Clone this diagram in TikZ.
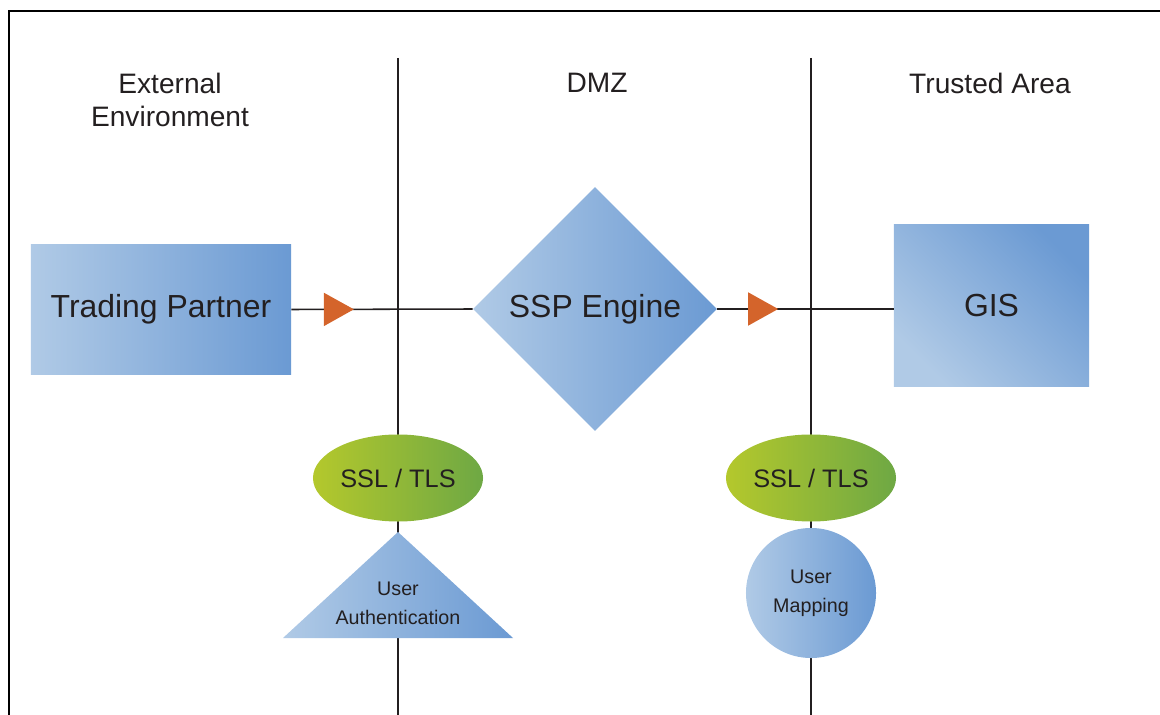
\documentclass[tikz,border=0pt]{standalone}
\usepackage{fontspec}
\setmainfont{Liberation Sans}
\usetikzlibrary{shapes.geometric,arrows.meta,decorations.markings}

\definecolor{inkgray}{HTML}{231F20}
\definecolor{bluelight}{HTML}{B0CAE6}
\definecolor{bluedark}{HTML}{6B9AD3}
\definecolor{greenlight}{HTML}{B4C82C}
\definecolor{greendark}{HTML}{6EA844}
\definecolor{flowarrow}{HTML}{D4642B}

\begin{document}
\begin{tikzpicture}[x=0.025cm, y=-0.025cm,
    every node/.style={text=inkgray},
    zonelabel/.style={font=\fontsize{20}{23.5}\selectfont, align=center},
    bigtext/.style={font=\fontsize{22.7}{27}\selectfont, inner sep=0pt},
    smalltext/.style={font=\fontsize{14}{20.5}\selectfont, align=center},
    hgrad/.style={left color=bluelight, right color=bluedark},
    dgrad/.style={bottom color=bluelight, top color=bluedark, shading angle=-45},
    seclayer/.style={ellipse, left color=greenlight, right color=greendark,
        minimum width=4.25cm, minimum height=2.175cm, inner sep=0pt,
        font=\fontsize{18}{21}\selectfont},
    zoneline/.style={inkgray, line width=1.1pt},
    flowline/.style={inkgray, line width=1.1pt, postaction={decorate},
        decoration={markings, mark=at position 0.345 with
        {\arrow[color=flowarrow]{Triangle[length=0.75cm, width=0.825cm]}}}}]
    \useasboundingbox (0,0) rectangle (1160,715);

    % Rand van de figuur
    \draw[black, line width=2.1pt] (9,715) -- (9,11) -- (1160,11);

    % Zonegrenzen
    \draw[zoneline] (398,58) -- (398,715);
    \draw[zoneline] (811,58) -- (811,715);

    \node[zonelabel] (ext) at (170,99.5) {External\\Environment};
    \node[zonelabel] (dmz) at (597,83) {DMZ};
    \node[zonelabel] (trust) at (990,83) {Trusted Area};

    % Hoofdstroom
    \node[bigtext, rectangle, hgrad, minimum width=6.5cm, minimum height=3.225cm]
        (tp) at (161,309.5) {Trading Partner};
    \node[bigtext, diamond, hgrad, minimum width=6.1cm, minimum height=6.1cm]
        (ssp) at (595,309) {SSP Engine};
    \node[bigtext, rectangle, dgrad, minimum width=4.875cm, minimum height=4.025cm]
        (gis) at (991.5,305.5) {GIS};

    \draw[flowline] (tp.east) -- (ssp.west);
    \draw[flowline] (ssp.east) -- (ssp.east -| gis.west);

    % Beveiliging op de grenzen
    \node[seclayer] (ssl1) at (398,478) {SSL / TLS};
    \node[seclayer] (ssl2) at (811,478) {SSL / TLS};

    \shade[hgrad] (398,532) -- (513,638) -- (283,638) -- cycle;
    \node[smalltext] (auth) at (398,603) {User\\Authentication};

    \node[smalltext, circle, hgrad, minimum size=3.25cm, inner sep=0pt]
        (map) at (811,593) {User\\Mapping};
\end{tikzpicture}
\end{document}
